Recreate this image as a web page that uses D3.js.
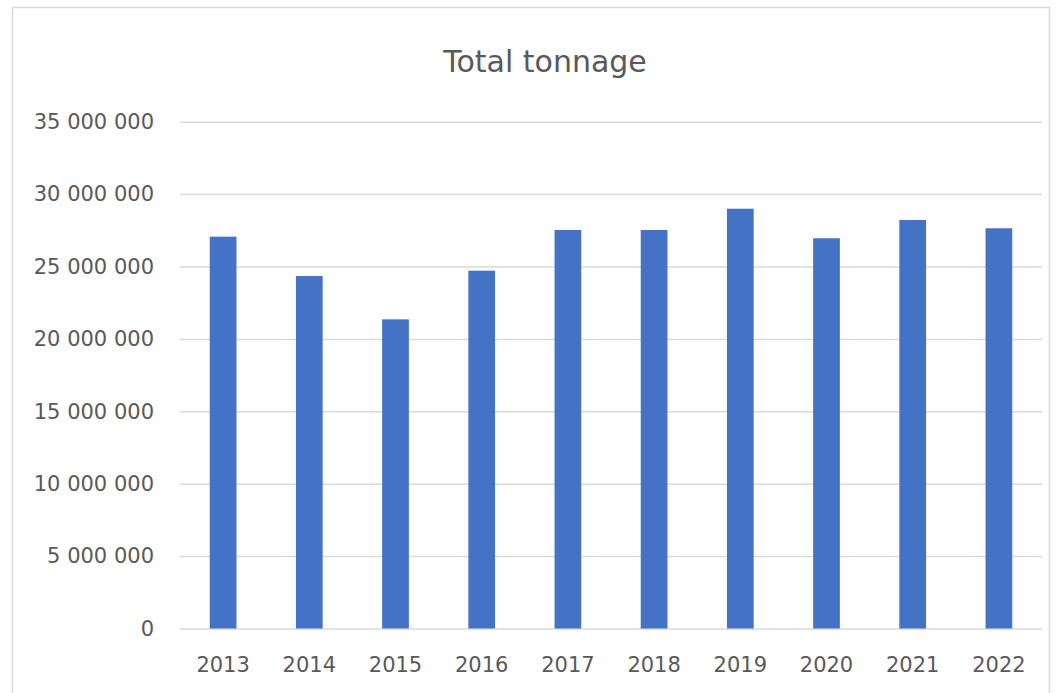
<!DOCTYPE html>
<html>
<head>
<meta charset="utf-8">
<script src="https://cdn.jsdelivr.net/npm/d3@7"></script>
<style>
  body { margin: 0; background: #fff; }
  text { font-family: "DejaVu Sans", sans-serif; fill: #595959; }
</style>
</head>
<body>
<div id="chart"></div>
<script>
// data
var years = ["2013", "2014", "2015", "2016", "2017", "2018", "2019", "2020", "2021", "2022"];
var tonnage = [27060000, 24340000, 21350000, 24710000, 27520000, 27520000, 28990000, 26950000, 28210000, 27640000];
var yTicks = [0, 5000000, 10000000, 15000000, 20000000, 25000000, 30000000, 35000000];
var title = "Total tonnage";

var W = 1061, H = 693;
var plot = {left: 180, right: 1042, top: 121.7, bottom: 628.5};

var svg = d3.select("#chart")
    .append("svg")
        .attr("width", W)
        .attr("height", H);

// chart frame
svg.append("rect")
    .attr("x", 12.5).attr("y", 7.5)
    .attr("width", 1037).attr("height", 700)
    .attr("fill", "#fff")
    .attr("stroke", "#d9d9d9")
    .attr("stroke-width", 1.5);

var x = d3.scaleBand()
    .domain(years)
    .range([plot.left, plot.right])
    .paddingInner(0.69)
    .paddingOuter(0.345);

var y = d3.scaleLinear()
    .domain([0, 35000000])
    .range([plot.bottom, plot.top]);

var fmt = function(v) { return d3.format(",")(v).replace(/,/g, " "); };

// y axis with gridlines
var yAxis = svg.append("g")
    .attr("transform", "translate(" + plot.left + ",0)")
    .call(d3.axisLeft(y)
        .tickValues(yTicks)
        .tickFormat(fmt)
        .tickSizeInner(-(plot.right - plot.left))
        .tickSizeOuter(0)
        .tickPadding(26));
yAxis.select(".domain").remove();
yAxis.selectAll(".tick line")
    .attr("stroke", "#d9d9d9")
    .attr("stroke-width", 1.5);
yAxis.selectAll(".tick text")
    .attr("font-size", 21)
    .attr("font-family", "DejaVu Sans, sans-serif")
    .attr("fill", "#595959");

// bars
svg.append("g")
    .selectAll("rect")
    .data(tonnage)
    .join("rect")
        .attr("x", function(d, i) { return x(years[i]); })
        .attr("y", function(d) { return y(d); })
        .attr("width", x.bandwidth())
        .attr("height", function(d) { return y(0) - y(d); })
        .attr("fill", "#4472c4");

// x axis
var xAxis = svg.append("g")
    .attr("transform", "translate(0," + plot.bottom + ")")
    .call(d3.axisBottom(x).tickSize(0).tickPadding(29));
xAxis.select(".domain").remove();
xAxis.selectAll(".tick text")
    .attr("font-size", 21)
    .attr("font-family", "DejaVu Sans, sans-serif")
    .attr("fill", "#595959");

// title
svg.append("text")
    .attr("x", 545)
    .attr("y", 72)
    .attr("text-anchor", "middle")
    .attr("font-size", 30)
    .text(title);
</script>
</body>
</html>
